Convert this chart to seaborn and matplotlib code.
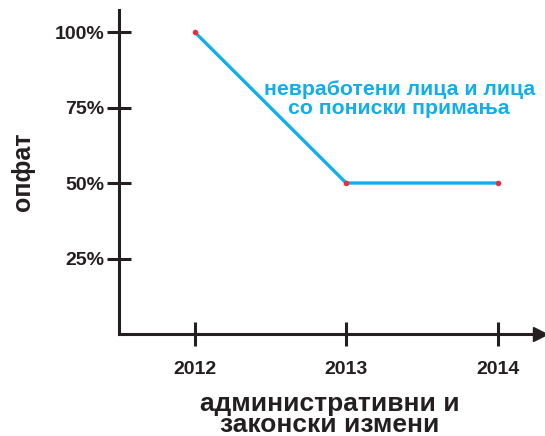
import numpy as np
import pandas as pd
import matplotlib.pyplot as plt
import seaborn as sns

sns.set_style("white")
plt.rcParams['font.family'] = ['Liberation Sans', 'DejaVu Sans']

years = [2012, 2013, 2014]
coverage = [100, 50, 50]
yticks = [25, 50, 75, 100]
ytick_labels = ["25%", "50%", "75%", "100%"]
series_label = "невработени лица и лица\nсо пониски примања"
xlabel = "административни и\nзаконски измени"
ylabel = "опфат"

df = pd.DataFrame({"year": years, "coverage": coverage})
blue = "#12aeea"
dark = "#231f20"

fig = plt.figure(figsize=(5.45, 4.36), dpi=100)
ax = fig.add_axes([119 / 545, 102 / 436, 421 / 545, 324 / 436])

sns.lineplot(x="year", y="coverage", data=df, color=blue, linewidth=2.4, ax=ax,
             marker="o", markersize=4, markerfacecolor="#e8303c", markeredgewidth=0)

ax.set_xlim(2011.5, 2014.28)
ax.set_ylim(0, 107.3)
ax.set_xticks(years)
ax.set_xticklabels([str(y) for y in years], fontsize=14, fontweight="bold", color=dark)
ax.set_yticks(yticks)
ax.set_yticklabels(ytick_labels, fontsize=14, fontweight="bold", color=dark)
ax.tick_params(bottom=True, left=True, direction="inout", length=17, width=2.2, color=dark)
ax.tick_params(axis="x", pad=11)
ax.tick_params(axis="y", pad=2)

for s in ["top", "right"]:
    ax.spines[s].set_visible(False)
for s in ["left", "bottom"]:
    ax.spines[s].set_linewidth(2.2)
    ax.spines[s].set_color(dark)
ax.plot(1, 0, ">", color=dark, markersize=10, transform=ax.transAxes, clip_on=False)

ax.text(2013.35, 77.8, series_label, color=blue, fontsize=15.3, fontweight="bold",
        ha="center", va="center", linespacing=0.95)

ax.set_xlabel(xlabel, fontsize=19, fontweight="bold", color=dark, linespacing=0.82, labelpad=10)
ax.set_ylabel(ylabel, fontsize=18, fontweight="bold", color=dark, labelpad=14)

fig.savefig("out.png", dpi=100)
